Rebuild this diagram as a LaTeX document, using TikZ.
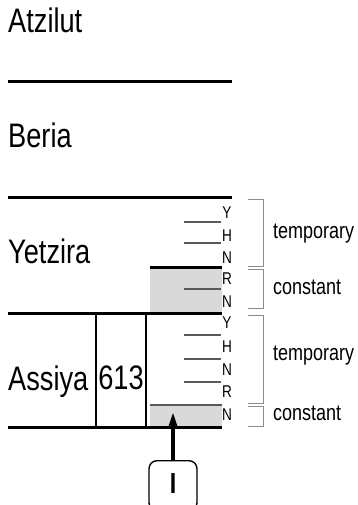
\documentclass[tikz,border=0pt]{standalone}
\usepackage{fontspec}
\setmainfont{Liberation Sans}[FakeStretch=0.8]
\usetikzlibrary{arrows.meta}
\definecolor{graybg}{gray}{0.85}
\definecolor{tickgray}{gray}{0.35}
\definecolor{bracegray}{gray}{0.55}
\tikzstyle{world}   = [anchor=base west, inner sep=0pt, font=\fontsize{34}{38}\selectfont]
\tikzstyle{letter}  = [inner sep=0pt, font=\fontsize{17}{19}\selectfont]
\tikzstyle{kind}    = [anchor=base west, inner sep=0pt, font=\fontsize{22.5}{26}\selectfont]
\tikzstyle{border}  = [line width=3pt]
\tikzstyle{tick}    = [line width=1.5pt, draw=tickgray]
\tikzstyle{bracket} = [line width=1pt, draw=bracegray]
\tikzstyle{inarrow} = [line width=3.2pt,-{Stealth[length=15pt,width=10pt]}]
\begin{document}
\begin{tikzpicture}[x=1pt,y=1pt]
\useasboundingbox (0,0) rectangle (358,-505);
\clip (0,0) rectangle (358,-505);

% shaded parts
\fill[graybg] (150,-267) rectangle (222,-313);
\fill[graybg] (150,-405) rectangle (222,-427);

% worlds
\node[world] (atz) at (8,-33)  {Atzilut};
\node[world] (ber) at (8,-148) {Beria};
\node[world] (yet) at (8,-263) {Yetzira};
\node[world] (ass) at (8,-390) {Assiya};

\draw[border] (8,-82)  -- (232,-82);
\draw[border] (8,-197) -- (232,-197);
\draw[border] (8,-313) -- (222,-313);
\draw[border] (8,-427) -- (222,-427);
\draw[border] (150,-267) -- (222,-267);
\draw[line width=2pt, draw=tickgray] (150,-405) -- (222,-405);

% 613
\draw[line width=1.3pt] (96,-313) rectangle (146,-427);
\node[world, anchor=base] (num) at (121,-389) {613};

% letters
\foreach \l/\y [count=\i] in {Y/213,H/236,N/258,R/279,N/302}
  \node[letter] (yl\i) at (227,-\y) {\l};
\foreach \l/\y [count=\i] in {Y/323,H/347,N/370,R/392,N/415}
  \node[letter] (al\i) at (227,-\y) {\l};

\foreach \y in {222,243,289,335,359,382}
  \draw[tick] (184,-\y) -- (221,-\y);

% brackets
\draw[bracket] (248,-199) -- (263,-199) -- (263,-266) -- (248,-266);
\draw[bracket] (248,-269) -- (263,-269) -- (263,-308) -- (248,-308);
\draw[bracket] (248,-315) -- (263,-315) -- (263,-403) -- (248,-403);
\draw[bracket] (248,-406) -- (263,-406) -- (263,-426) -- (248,-426);

\node[kind] (ytemp)  at (273,-238) {temporary};
\node[kind] (yconst) at (273,-294) {constant};
\node[kind] (atemp)  at (273,-360) {temporary};
\node[kind] (aconst) at (273,-420) {constant};

% input
\node[draw, line width=1.4pt, rounded corners=8pt, minimum width=48pt, inner sep=0pt,
      text height=33pt, text depth=17pt, anchor=north,
      font=\fontsize{29}{32}\selectfont\bfseries] (inbox) at (173,-460) {I};
\coordinate (target) at (173,-413);
\draw[inarrow] (inbox) -- (target);

\end{tikzpicture}
\end{document}
